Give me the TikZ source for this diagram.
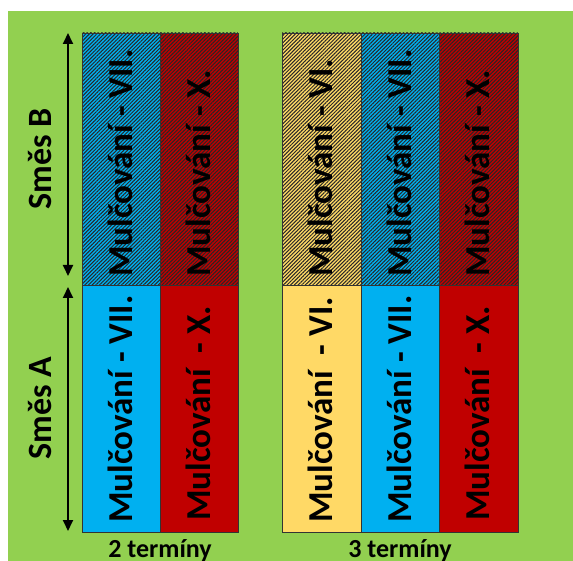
\documentclass[tikz,border=0pt]{standalone}
\usepackage{fontspec}
\setmainfont{Carlito}[BoldFont={Carlito Bold}]
\usetikzlibrary{patterns.meta,arrows.meta}
\definecolor{field}{RGB}{146,208,80}
\definecolor{cblue}{RGB}{0,176,240}
\definecolor{cred}{RGB}{192,0,0}
\definecolor{cyellow}{RGB}{255,217,102}
\tikzset{
  cell/.style={draw=black!80,line width=0.8pt},
  hatched/.style={pattern={Lines[angle=45,distance=2.6pt,line width=1pt]},pattern color=black!85},
  celltext/.style={rotate=90,anchor=base west,font=\bfseries\fontsize{35}{35}\selectfont,inner sep=0pt},
  sidetext/.style={rotate=90,anchor=base,font=\bfseries\fontsize{34}{34}\selectfont,inner sep=0pt},
  baselabel/.style={anchor=base,font=\bfseries\fontsize{26}{26}\selectfont,inner sep=0pt},
  span/.style={line width=1.8pt,{Triangle[length=11pt,width=10pt]}-{Triangle[length=11pt,width=10pt]}}
}
\begin{document}
\begin{tikzpicture}[x=1pt,y=-1pt]
\useasboundingbox (0,0) rectangle (573,561);
\fill[white] (0,0) rectangle (573,561);
\fill[field] (8,11) rectangle (573,561);

% two-date block
\fill[cblue] (82,33) rectangle (160,285);
\fill[cred] (160,33) rectangle (238,285);
\fill[hatched] (82,33) rectangle (238,285);
\fill[cblue] (82,285) rectangle (160,532);
\fill[cred] (160,285) rectangle (238,532);
\draw[cell] (82,33) rectangle (160,285) (160,33) rectangle (238,285)
            (82,285) rectangle (160,532) (160,285) rectangle (238,532);

% three-date block
\fill[cyellow] (282,33) rectangle (361,285);
\fill[cblue] (361,33) rectangle (439,285);
\fill[cred] (439,33) rectangle (518,285);
\fill[hatched] (282,33) rectangle (518,285);
\fill[cyellow] (282,285) rectangle (361,532);
\fill[cblue] (361,285) rectangle (439,532);
\fill[cred] (439,285) rectangle (518,532);
\draw[cell] (282,33) rectangle (361,285) (361,33) rectangle (439,285) (439,33) rectangle (518,285)
            (282,285) rectangle (361,532) (361,285) rectangle (439,532) (439,285) rectangle (518,532);

% cell labels (baseline on the right of each rotated line)
\node[celltext] (b1) at (132,277) {Mulčování - VII.};
\node[celltext] (b2) at (210,277) {Mulčování - X.};
\node[celltext] (a1) at (132,523) {Mulčování - VII.};
\node[celltext] (a2) at (210,521) {Mulčování \ - X.};
\node[celltext] (d1) at (332.5,277) {Mulčování - VI.};
\node[celltext] (d2) at (411,277) {Mulčování - VII.};
\node[celltext] (d3) at (489.5,277) {Mulčování - X.};
\node[celltext] (c1) at (332.5,523) {Mulčování \ - VI.};
\node[celltext] (c2) at (411,523) {Mulčování - VII.};
\node[celltext] (c3) at (489.5,521) {Mulčování \ - X.};

% extent arrows
\coordinate (bt) at (68,33);
\coordinate (bb) at (68,276);
\coordinate (at) at (68,287);
\coordinate (ab) at (68,531);
\draw[span] (bb) -- (bt);
\draw[span] (ab) -- (at);
\node[sidetext] (sb) at (51,159) {Směs B};
\node[sidetext] (sa) at (51,408) {Směs A};

% column-group labels
\node[baselabel] (t2) at (160,557) {2 termíny};
\node[baselabel] (t3) at (400,557) {3 termíny};
\end{tikzpicture}
\end{document}
